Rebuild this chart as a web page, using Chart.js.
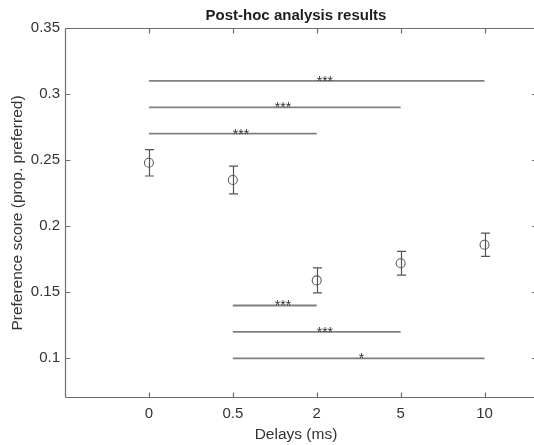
<!DOCTYPE html>
<html>
<head>
<meta charset="utf-8">
<script src="https://cdn.jsdelivr.net/npm/chart.js@4/dist/chart.umd.min.js"></script>
<style>
html, body { margin: 0; padding: 0; background: #ffffff; overflow: hidden; }
#wrap { width: 534px; height: 445px; }
</style>
</head>
<body>
<div id="wrap"><canvas id="c" width="534" height="445"></canvas></div>
<script>
// ---- data ----
const categories = ['0', '0.5', '2', '5', '10'];
const means = [0.248, 0.235, 0.159, 0.172, 0.186];
const errs = [0.010, 0.0105, 0.0095, 0.009, 0.0088];
const yTicks = [0.1, 0.15, 0.2, 0.25, 0.3, 0.35];
// pairwise comparisons (category positions are 1-based)
const compFrom = [1, 1, 1, 2, 2, 2];
const compTo = [5, 4, 3, 3, 4, 5];
const compY = [0.31, 0.29, 0.27, 0.14, 0.12, 0.10];
const compLabel = ['***', '***', '***', '***', '***', '*'];

const FONT = "'Liberation Sans', Arial, Helvetica, sans-serif";

const points = means.map((m, i) => ({ x: i + 1, y: m }));
const compDatasets = compY.map((y, k) => ({
  type: 'line',
  data: [{ x: compFrom[k], y: y }, { x: compTo[k], y: y }],
  borderColor: '#808080',
  borderWidth: 1.8,
  pointRadius: 0,
  showLine: true,
  fill: false
}));

const boxPlugin = {
  id: 'matlabBox',
  afterDatasetsDraw(chart) {
    const { ctx, chartArea: a, scales: { x, y } } = chart;
    const tl = 5;
    const axisRight = a.left + (537 - 65);
    ctx.save();
    // error bars
    ctx.strokeStyle = '#555555';
    ctx.lineWidth = 1.2;
    means.forEach((m, i) => {
      const px = Math.round(x.getPixelForValue(i + 1)) + 0.5;
      const yt = y.getPixelForValue(m + errs[i]);
      const yb = y.getPixelForValue(m - errs[i]);
      ctx.beginPath();
      ctx.moveTo(px, yt); ctx.lineTo(px, yb);
      ctx.moveTo(px - 4.5, yt); ctx.lineTo(px + 4.5, yt);
      ctx.moveTo(px - 4.5, yb); ctx.lineTo(px + 4.5, yb);
      ctx.stroke();
    });
    // significance labels
    ctx.fillStyle = '#333333';
    ctx.font = '14px ' + FONT;
    ctx.textAlign = 'left';
    ctx.textBaseline = 'middle';
    compY.forEach((v, k) => {
      const mid = (x.getPixelForValue(compFrom[k]) + x.getPixelForValue(compTo[k])) / 2;
      ctx.fillText(compLabel[k], mid, y.getPixelForValue(v) + 1);
    });
    // axes box
    ctx.strokeStyle = '#6e6e6e';
    ctx.lineWidth = 1.2;
    const L = Math.round(a.left) + 0.5, T = Math.round(a.top) + 0.5, B = Math.round(a.bottom) - 0.5;
    ctx.beginPath();
    ctx.moveTo(L, T); ctx.lineTo(chart.width, T);
    ctx.moveTo(L, T); ctx.lineTo(L, B);
    ctx.moveTo(L, B); ctx.lineTo(chart.width, B);
    // x ticks (inward, top and bottom)
    x.ticks.forEach(t => {
      const px = Math.round(x.getPixelForValue(t.value)) + 0.5;
      ctx.moveTo(px, T); ctx.lineTo(px, T + tl);
      ctx.moveTo(px, B); ctx.lineTo(px, B - tl);
    });
    // y ticks (inward, left and right)
    y.ticks.forEach(t => {
      const py = Math.round(y.getPixelForValue(t.value)) + 0.5;
      ctx.moveTo(L, py); ctx.lineTo(L + tl, py);
      ctx.moveTo(axisRight, py); ctx.lineTo(axisRight - tl, py);
    });
    ctx.stroke();
    ctx.restore();
  }
};

new Chart(document.getElementById('c'), {
  type: 'scatter',
  data: {
    datasets: [{
      data: points,
      pointStyle: 'circle',
      pointRadius: 4.5,
      borderColor: '#5f5f5f',
      backgroundColor: 'rgba(0,0,0,0)',
      borderWidth: 1.1,
      showLine: false
    }].concat(compDatasets)
  },
  options: {
    responsive: false,
    animation: false,
    layout: { padding: { left: 0, right: 7, top: 0, bottom: 0 } },
    plugins: {
      legend: { display: false },
      tooltip: { enabled: false },
      title: {
        display: true,
        text: 'Post-hoc analysis results',
        fullSize: false,
        color: '#1e1e1e',
        font: { family: FONT, size: 15, weight: 'bold', lineHeight: 1.2 },
        padding: { top: 7, bottom: 3 }
      }
    },
    scales: {
      x: {
        type: 'linear',
        min: 0,
        max: 5.506,
        grid: { display: false, drawTicks: false },
        border: { display: false },
        afterBuildTicks: (s) => { s.ticks = categories.map((c, i) => ({ value: i + 1 })); },
        afterFit: (s) => { s.height = 47; },
        ticks: {
          autoSkip: false,
          maxRotation: 0,
          padding: 7,
          color: '#333333',
          font: { family: FONT, size: 15 },
          callback: (v) => categories[v - 1]
        },
        title: {
          display: true,
          text: 'Delays (ms)',
          color: '#333333',
          font: { family: FONT, size: 15.5, lineHeight: 1.2 },
          padding: { top: 0, bottom: 1 }
        }
      },
      y: {
        type: 'linear',
        min: 0.07,
        max: 0.35,
        grid: { display: false, drawTicks: false },
        border: { display: false },
        afterBuildTicks: (s) => { s.ticks = yTicks.map(v => ({ value: v })); },
        afterFit: (s) => { s.width = 65; },
        ticks: {
          autoSkip: false,
          padding: 5,
          color: '#333333',
          font: { family: FONT, size: 15 },
          callback: (v) => String(v)
        },
        title: {
          display: true,
          text: 'Preference score (prop. preferred)',
          color: '#333333',
          font: { family: FONT, size: 15.5, lineHeight: 1.2 },
          padding: { top: 8, bottom: 0 }
        }
      }
    }
  },
  plugins: [boxPlugin]
});
</script>
</body>
</html>
